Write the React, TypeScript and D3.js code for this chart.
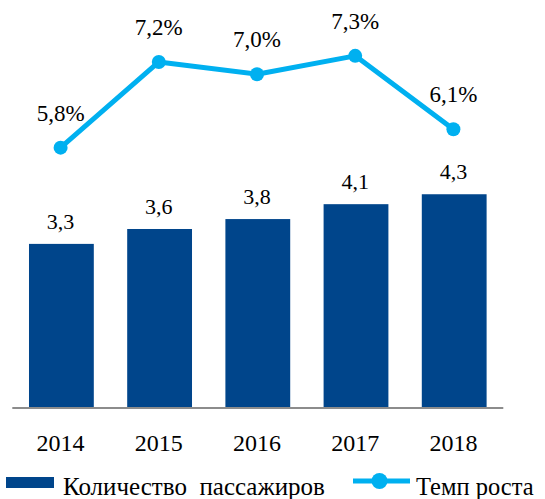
import React from "react";
import * as d3 from "d3";

const years = ["2014", "2015", "2016", "2017", "2018"];
const passengers = [3.3, 3.6, 3.8, 4.1, 4.3];
const passengerLabels = ["3,3", "3,6", "3,8", "4,1", "4,3"];
const growth = [5.8, 7.2, 7.0, 7.3, 6.1];
const growthLabels = ["5,8%", "7,2%", "7,0%", "7,3%", "6,1%"];
const legendBar = "Количество  пассажиров";
const legendLine = "Темп роста";

const W = 545;
const H = 499;
const BAR = "#00458B";
const LINE = "#00B0F0";
const FONT = '"Liberation Serif"';

export default function App() {
  const x = d3.scaleBand<string>().domain(years).range([12.3, 503.3]).paddingInner(0.34).paddingOuter(0.17);
  const yBar = d3.scaleLinear().domain([0, 5]).range([407.7, 159.5]);
  const yLine = d3.scaleLinear().domain([5, 8]).range([196.6, 13.0]);
  const cx = (d: string) => (x(d) as number) + x.bandwidth() / 2 - 0.8;
  const lineGen = d3
    .line<number>()
    .x((_, i) => cx(years[i]))
    .y((v) => yLine(v));
  const ts = { fontFamily: FONT } as React.CSSProperties;

  return (
    <svg width={W} height={H} style={{ position: "absolute", left: 0, top: 0, background: "#fff" }}>
      {passengers.map((v, i) => (
        <rect key={years[i]} x={x(years[i])} y={yBar(v)} width={x.bandwidth()} height={yBar(0) - yBar(v)} fill={BAR} />
      ))}
      <line x1={12.3} x2={503.3} y1={408} y2={408} stroke="#8c8c8c" strokeWidth={2} />
      {passengers.map((v, i) => (
        <text key={"bl" + i} x={cx(years[i])} y={yBar(v) - 15} textAnchor="middle" fontSize={22} fill="#000" style={ts}>
          {passengerLabels[i]}
        </text>
      ))}
      {years.map((yr) => (
        <text key={"yr" + yr} x={cx(yr)} y={451} textAnchor="middle" fontSize={24} fill="#000" style={ts}>
          {yr}
        </text>
      ))}
      <path d={lineGen(growth) || ""} fill="none" stroke={LINE} strokeWidth={5} strokeLinejoin="round" />
      {growth.map((v, i) => (
        <circle key={"c" + i} cx={cx(years[i])} cy={yLine(v)} r={7} fill={LINE} />
      ))}
      {growth.map((v, i) => (
        <text key={"gl" + i} x={cx(years[i])} y={yLine(v) - 27} textAnchor="middle" fontSize={23} fill="#000" style={ts}>
          {growthLabels[i]}
        </text>
      ))}
      <g>
        <rect x={6} y={477} width={48} height={11} fill={BAR} />
        <text x={63} y={495} fontSize={25} fill="#000" style={{ ...ts, whiteSpace: "pre" }}>
          {legendBar}
        </text>
        <line x1={353} x2={410} y1={481} y2={481} stroke={LINE} strokeWidth={5} />
        <circle cx={379.5} cy={481} r={8} fill={LINE} />
        <text x={416} y={495} fontSize={24.5} fill="#000" style={ts}>
          {legendLine}
        </text>
      </g>
    </svg>
  );
}
